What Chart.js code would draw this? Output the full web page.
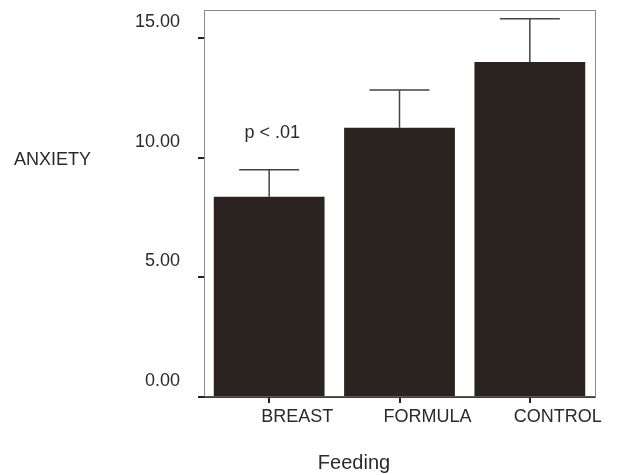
<!DOCTYPE html>
<html>
<head>
<meta charset="utf-8">
<script src="https://cdn.jsdelivr.net/npm/chart.js@4/dist/chart.umd.min.js"></script>
<style>
  html, body { margin: 0; padding: 0; background: #fff; }
  #wrap { width: 632px; height: 475px; }
</style>
</head>
<body>
<div id="wrap"><canvas id="myCanvas" width="632" height="475"></canvas></div>
<script>
// data
const categories = ['BREAST', 'FORMULA', 'CONTROL'];
const means = [8.37, 11.25, 14.0];
const errTop = [9.5, 12.83, 15.8];
const yTicks = [0, 5, 10, 15];
const yTickLabels = ['0.00', '5.00', '10.00', '15.00'];

const FONT = '"Liberation Sans", Arial, sans-serif';

// frame, error bars and loose text
const extras = {
   id: 'extras',
   beforeDatasetsDraw(chart) {
      const a = chart.chartArea;
      const c = chart.ctx;
      c.save();
      c.strokeStyle = '#8a8a8a';
      c.lineWidth = 1;
      c.strokeRect(a.left + 0.5, a.top + 0.5, a.right - a.left, a.bottom - a.top);
      c.restore();
   },
   afterDatasetsDraw(chart) {
      const c = chart.ctx;
      const a = chart.chartArea;
      const y = chart.scales.y;
      const meta = chart.getDatasetMeta(0);
      c.save();
      c.strokeStyle = '#444';
      c.lineWidth = 1.5;
      meta.data.forEach(function(bar, i) {
         const yt = y.getPixelForValue(errTop[i]);
         c.beginPath();
         c.moveTo(bar.x, bar.y);
         c.lineTo(bar.x, yt);
         c.moveTo(bar.x - 30, yt);
         c.lineTo(bar.x + 30, yt);
         c.stroke();
      });
      // bottom axis line
      c.strokeStyle = '#222';
      c.lineWidth = 1.5;
      c.beginPath();
      c.moveTo(a.left - 6, a.bottom);
      c.lineTo(a.right, a.bottom);
      c.stroke();

      c.fillStyle = '#2a2a2a';
      c.font = '18px ' + FONT;
      c.textBaseline = 'middle';
      c.textAlign = 'center';
      c.fillText('p < .01', meta.data[0].x + 3, y.getPixelForValue(11.05));
      c.textAlign = 'left';
      c.fillText('ANXIETY', 14, y.getPixelForValue(9.9));
      c.textAlign = 'center';
      c.font = '20px ' + FONT;
      c.fillText('Feeding', a.left + 150, a.bottom + 66);
      c.restore();
   }
};

const ctx = document.getElementById('myCanvas').getContext('2d');
const myChart = new Chart(ctx, {
   type: 'bar',
   data: {
      labels: categories,
      datasets: [{
         data: means,
         backgroundColor: '#2a2320',
         borderWidth: 0,
         barPercentage: 0.85,
         categoryPercentage: 1.0
      }]
   },
   options: {
      responsive: false,
      animation: false,
      layout: { padding: { top: 10, right: 37, left: 0, bottom: 0 } },
      plugins: {
         legend: { display: false },
         tooltip: { enabled: false }
      },
      scales: {
         x: {
            grid: { display: true, offset: false, drawOnChartArea: false, tickLength: 6, color: '#222', lineWidth: 2 },
            border: { display: false },
            ticks: {
               color: '#2a2a2a',
               font: { family: FONT, size: 18 },
               padding: 3,
               labelOffset: 28,
               maxRotation: 0
            },
            afterFit(scale) {
               scale.height = 78;
               scale.paddingLeft = 0;
               scale.paddingRight = 0;
            }
         },
         y: {
            min: 0,
            max: 16.17,
            grid: { display: true, drawOnChartArea: false, tickLength: 6, color: '#222', lineWidth: 2 },
            border: { display: false },
            afterBuildTicks(scale) {
               scale.ticks = yTicks.map(function(v) { return { value: v }; });
            },
            ticks: {
               color: '#2a2a2a',
               font: { family: FONT, size: 18 },
               padding: 18,
               labelOffset: -16,
               callback: function(v) {
                  const i = yTicks.indexOf(v);
                  return i >= 0 ? yTickLabels[i] : '';
               }
            },
            afterFit(scale) {
               scale.width = 204;
               scale.paddingTop = 0;
               scale.paddingBottom = 0;
            }
         }
      }
   },
   plugins: [extras]
});
</script>
</body>
</html>
